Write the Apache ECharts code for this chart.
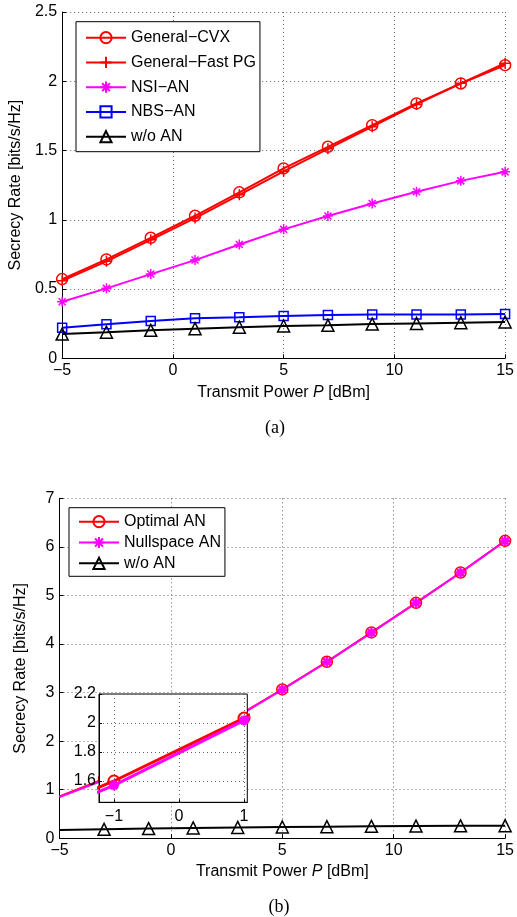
<!DOCTYPE html>
<html><head><meta charset="utf-8">
<script src="https://cdn.jsdelivr.net/npm/echarts@6/dist/echarts.min.js"></script>
<style>html,body{margin:0;padding:0;background:#fff}#c{width:517px;height:917px}</style>
</head><body><div id="c"></div>
<script>
// ---- data ----
const powerDbm = [-5, -3, -1, 1, 3, 5, 7, 9, 11, 13, 15];
// (a)
const generalCVX = [0.572, 0.714, 0.870, 1.029, 1.198, 1.371, 1.527, 1.683, 1.840, 1.984, 2.116];
const generalFastPG = [0.560, 0.700, 0.855, 1.012, 1.180, 1.350, 1.512, 1.672, 1.833, 1.985, 2.130];
const nsiAN = [0.408, 0.505, 0.608, 0.709, 0.822, 0.931, 1.027, 1.118, 1.202, 1.281, 1.346];
const nbsAN = [0.221, 0.245, 0.269, 0.289, 0.296, 0.305, 0.312, 0.317, 0.316, 0.316, 0.320];
const woAN_a = [0.175, 0.188, 0.202, 0.214, 0.224, 0.233, 0.238, 0.247, 0.252, 0.257, 0.262];
// (b)
const optimalAN = [0.86, 1.22, 1.60, 2.034, 2.52, 3.066, 3.634, 4.239, 4.848, 5.473, 6.124];
const nullspaceAN = [0.85, 1.20, 1.57, 2.018, 2.51, 3.06, 3.63, 4.235, 4.845, 5.47, 6.12];
const woAN_b = [0.171, 0.185, 0.200, 0.213, 0.224, 0.233, 0.240, 0.247, 0.252, 0.257, 0.260];
// ticks
const xTicks = [-5, 0, 5, 10, 15];
const yTicksA = [0, 0.5, 1, 1.5, 2, 2.5];
const yTicksB = [0, 1, 2, 3, 4, 5, 6, 7];
const insetXTicks = [-1, 0, 1];
const insetYTicks = [1.6, 1.8, 2, 2.2];
const legendA = ['General\u2212CVX', 'General\u2212Fast PG', 'NSI\u2212AN', 'NBS\u2212AN', 'w/o AN'];
const legendB = ['Optimal AN', 'Nullspace AN', 'w/o AN'];

// ---- helpers ----
const FONT = 'Liberation Sans, Arial, Helvetica, sans-serif';
const pair = (ys, skipFirst) => powerDbm.map((x, i) => (skipFirst && i === 0) ? {value: [x, ys[i]], symbol: 'none'} : [x, ys[i]]);
const fmt = v => String(v).replace('-', '\u2212');
const plusPath = 'path://M0,-1L0,1M-1,0L1,0';
const starPath = 'path://M0,-1L0,1M-1,0L1,0M-0.7,-0.7L0.7,0.7M-0.7,0.7L0.7,-0.7';
const NOFILL = 'rgba(0,0,0,0)';
const dotted = {show: true, lineStyle: {color: '#666', type: [1, 3], width: 1}};

function mainX(gi, name, gap) {
  return {
    type: 'value', gridIndex: gi, min: xTicks[0], max: xTicks[xTicks.length - 1], interval: 5,
    axisLine: {show: true, onZero: false, lineStyle: {color: '#000', width: 1}},
    axisTick: {show: true, inside: true, length: 4, lineStyle: {color: '#000'}},
    axisLabel: {color: '#000', fontSize: 16, fontFamily: FONT, margin: 4, formatter: fmt},
    splitLine: dotted,
    name: name, nameLocation: 'middle', nameGap: gap,
    nameTextStyle: {color: '#000', fontSize: 16, fontFamily: FONT, rich: {i: {fontStyle: 'italic', fontSize: 16, fontFamily: FONT, color: '#000'}}}
  };
}
function mainY(gi, ticks, step) {
  return {
    type: 'value', gridIndex: gi, min: ticks[0], max: ticks[ticks.length - 1], interval: step,
    axisLine: {show: true, onZero: false, lineStyle: {color: '#000', width: 1}},
    axisTick: {show: true, inside: true, length: 4, lineStyle: {color: '#000'}},
    axisLabel: {color: '#000', fontSize: 16, fontFamily: FONT, margin: 5, formatter: fmt},
    splitLine: dotted,
    name: 'Secrecy Rate [bits/s/Hz]', nameLocation: 'middle', nameGap: 31,
    nameTextStyle: {color: '#000', fontSize: 16, fontFamily: FONT}
  };
}
function ser(name, gi, ys, color, symbol, size, opts) {
  opts = opts || {};
  return Object.assign({
    name: name, type: 'line', xAxisIndex: gi, yAxisIndex: gi,
    data: pair(ys, opts.skipFirst),
    symbol: symbol, symbolSize: size, showSymbol: true,
    lineStyle: {color: color, width: opts.lw || 2},
    itemStyle: {color: opts.fill || NOFILL, borderColor: color, borderWidth: opts.bw || 1.5},
    emphasis: {disabled: true}, animation: false
  }, opts.extra || {});
}

const chart = echarts.init(document.getElementById('c'), null, {renderer: 'canvas'});
chart.setOption({
  backgroundColor: '#fff',
  animation: false,
  grid: [
    {left: 59.5, top: 12, width: 446.5, height: 346.3},
    {left: 59.5, top: 498.3, width: 446.5, height: 340},
    {left: 99, top: 694, width: 148.3, height: 108.3, show: true, backgroundColor: '#fff', borderColor: '#000', borderWidth: 1, z: 10}
  ],
  xAxis: [
    mainX(0, 'Transmit Power{i| P} [dBm]', 26),
    mainX(1, 'Transmit Power{i| P} [dBm]', 25),
    {
      type: 'value', gridIndex: 2, min: -1.23, max: 1.05, z: 11,
      axisLine: {show: true, onZero: false, lineStyle: {color: '#000'}},
      axisTick: {show: true, inside: true, length: 3, customValues: insetXTicks, lineStyle: {color: '#000'}},
      axisLabel: {color: '#000', fontSize: 16, fontFamily: FONT, margin: 6, customValues: insetXTicks, formatter: fmt},
      splitLine: dotted
    }
  ],
  yAxis: [
    mainY(0, yTicksA, 0.5),
    mainY(1, yTicksB, 1),
    {
      type: 'value', gridIndex: 2, min: 1.453, max: 2.2, z: 11,
      axisLine: {show: true, onZero: false, lineStyle: {color: '#000'}},
      axisTick: {show: true, inside: true, length: 3, customValues: insetYTicks, lineStyle: {color: '#000'}},
      axisLabel: {color: '#000', fontSize: 16, fontFamily: FONT, margin: 3, customValues: insetYTicks, formatter: fmt},
      splitLine: dotted
    }
  ],
  legend: [
    {
      data: legendA, orient: 'vertical', left: 76, top: 21.7,
      itemWidth: 40, itemHeight: 14, itemGap: 8.75,
      padding: [8, 4, 7, 9], backgroundColor: '#fff', borderColor: '#000', borderWidth: 1,
      textStyle: {color: '#000', fontSize: 16, fontFamily: FONT},
      selectedMode: false
    },
    {
      data: legendB, orient: 'vertical', left: 69, top: 507.7,
      itemWidth: 40, itemHeight: 14, itemGap: 4.8,
      padding: [6, 4, 5, 9], backgroundColor: '#fff', borderColor: '#000', borderWidth: 1,
      textStyle: {color: '#000', fontSize: 16, fontFamily: FONT},
      selectedMode: false
    }
  ],
  graphic: [
    {type: 'text', x: 275, y: 428, style: {text: '(a)', font: '18px "Liberation Serif", "Times New Roman", serif', fill: '#000', align: 'center', verticalAlign: 'middle'}},
    {type: 'text', x: 279, y: 907, style: {text: '(b)', font: '18px "Liberation Serif", "Times New Roman", serif', fill: '#000', align: 'center', verticalAlign: 'middle'}}
  ],
  series: [
    ser(legendA[0], 0, generalCVX, '#ff0000', 'circle', 11),
    ser(legendA[1], 0, generalFastPG, '#ff0000', plusPath, 11),
    ser(legendA[2], 0, nsiAN, '#ff00ff', starPath, 10),
    ser(legendA[3], 0, nbsAN, '#0000ff', 'rect', 9),
    ser(legendA[4], 0, woAN_a, '#000000', 'triangle', 12),
    ser(legendB[0], 1, optimalAN, '#ff0000', 'circle', 11, {skipFirst: true}),
    ser(legendB[1], 1, nullspaceAN, '#ff00ff', starPath, 10, {skipFirst: true, bw: 2.5}),
    ser(legendB[2], 1, woAN_b, '#000000', 'triangle', 12, {skipFirst: true}),
    ser('inset-opt', 2, optimalAN, '#ff0000', 'circle', 11, {lw: 3, bw: 2, extra: {z: 12}}),
    ser('inset-null', 2, nullspaceAN, '#ff00ff', starPath, 10, {lw: 3, bw: 3, extra: {z: 13}})
  ]
});
</script></body></html>
